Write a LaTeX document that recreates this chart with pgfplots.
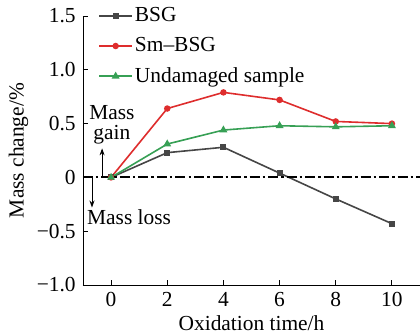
\documentclass[border=0pt]{standalone}
\usepackage{pgfplots}
\pgfplotsset{compat=1.18}
\usetikzlibrary{arrows.meta}
\usepackage{fontspec}
\setmainfont{Liberation Serif}
\definecolor{cBSG}{RGB}{70,70,70}
\definecolor{cSm}{RGB}{222,45,45}
\definecolor{cUn}{RGB}{55,160,85}
\begin{document}
\fontsize{21.5}{24}\selectfont
\begin{tikzpicture}
\begin{axis}[
  scale only axis,
  width=337bp, height=269bp,
  xmin=-1, xmax=11, ymin=-1, ymax=1.5,
  axis lines*=left,
  axis line style={line width=0.9bp},
  tick style={line width=0.9bp, black},
  tick align=inside,
  major tick length=5bp,
  xtick={0,2,4,6,8,10},
  ytick={-1,-0.5,0,0.5,1,1.5},
  yticklabels={−1.0,−0.5,0,0.5,1.0,1.5},
  /pgf/number format/assume math mode=true,
  tick label style={font=\fontsize{21.5}{24}\selectfont},
  label style={font=\fontsize{21.5}{24}\selectfont},
  xlabel={Oxidation time/h},
  ylabel={Mass change/\%},
  xlabel style={yshift=6bp},
  ylabel style={yshift=-6bp},
  legend style={at={(0.045,1.04)}, anchor=north west, draw=none, fill=none,
    font=\fontsize{21.5}{24}\selectfont, row sep=8.5bp, inner sep=0pt},
  legend cell align=left,
  legend image code/.code={
    \draw[#1] (0cm,0cm) -- (33bp,0cm);
    \draw[#1,only marks] plot coordinates {(16.5bp,0cm)};
  },
  clip=false,
]
\addplot[cBSG, line width=1.6bp, mark=square*, mark size=2.2bp] coordinates {(0,0) (2,0.23) (4,0.28) (6,0.04) (8,-0.20) (10,-0.43)};
\addlegendentry{BSG}
\addplot[cSm, line width=1.6bp, mark=*, mark size=2.4bp] coordinates {(0,0) (2,0.64) (4,0.79) (6,0.72) (8,0.52) (10,0.50)};
\addlegendentry{Sm–BSG}
\addplot[cUn, line width=1.6bp, mark=triangle*, mark size=3bp] coordinates {(0,0) (2,0.31) (4,0.44) (6,0.48) (8,0.47) (10,0.48)};
\addlegendentry{Undamaged sample}
\draw[black, line width=1.8bp, dash pattern=on 10bp off 3bp on 2.5bp off 3bp] (axis cs:-1,0) -- (axis cs:11,0);
\node[align=center, inner sep=0pt, font=\fontsize{21.5}{20}\selectfont] at (axis cs:0.03,0.49) {Mass\\gain};
\draw[-{Stealth[length=7bp,width=5bp]}, line width=0.9bp] (axis cs:-0.32,0.0) -- (axis cs:-0.32,0.27);
\draw[-{Stealth[length=7bp,width=5bp]}, line width=0.9bp] (axis cs:-0.68,0.0) -- (axis cs:-0.68,-0.28);
\node[inner sep=0pt, anchor=west] at (axis cs:-0.86,-0.37) {Mass loss};
\end{axis}
\pgfresetboundingbox
\path ([shift={(-83bp,-51bp)}]current axis.south west) rectangle ([shift={(0bp,16bp)}]current axis.north east);
\end{tikzpicture}
\end{document}
